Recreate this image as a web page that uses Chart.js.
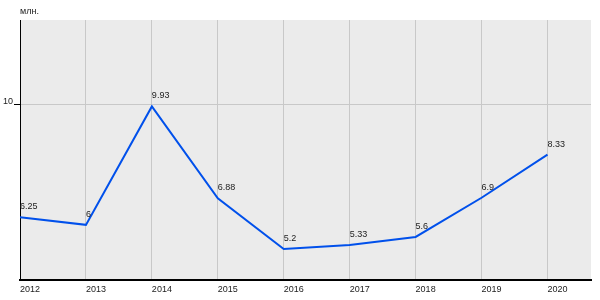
<!DOCTYPE html>
<html>
<head>
<meta charset="utf-8">
<script src="https://cdn.jsdelivr.net/npm/chart.js@4"></script>
<style>
  html, body { margin: 0; padding: 0; background: #fff; }
  #wrap { width: 600px; height: 300px; }
</style>
</head>
<body>
<div id="wrap"><canvas id="myChart"></canvas></div>
<script>
// values
const years = [2012, 2013, 2014, 2015, 2016, 2017, 2018, 2019, 2020];
const values = [6.25, 6, 9.93, 6.88, 5.2, 5.33, 5.6, 6.9, 8.33];
const yTicks = [10];
const unitLabel = 'млн.';

const FONT = '"Liberation Sans", Arial, sans-serif';

// grey plot background
const plotBg = {
  id: 'plotBg',
  beforeDraw(chart) {
    const a = chart.chartArea, ctx = chart.ctx;
    ctx.save();
    ctx.fillStyle = '#ebebeb';
    ctx.fillRect(a.left, a.top, a.right - a.left, a.bottom - a.top);
    ctx.restore();
  }
};

// value labels + unit text
const valueLabels = {
  id: 'valueLabels',
  afterDatasetsDraw(chart) {
    const ctx = chart.ctx;
    const meta = chart.getDatasetMeta(0);
    ctx.save();
    ctx.font = '9px ' + FONT;
    ctx.fillStyle = '#222';
    ctx.textAlign = 'left';
    ctx.textBaseline = 'middle';
    meta.data.forEach((pt, i) => {
      ctx.fillText(String(values[i]), pt.x, pt.y - 10.5);
    });
    ctx.fillText(unitLabel, chart.chartArea.left, 12);
    ctx.restore();
  }
};

const data = {
  datasets: [{
    data: years.map((y, i) => ({ x: y, y: values[i] })),
    borderColor: 'rgb(0, 80, 235)',
    borderWidth: 2,
    pointRadius: 0,
    tension: 0,
    fill: false
  }]
};

const config = {
  type: 'line',
  data: data,
  options: {
    responsive: true,
    maintainAspectRatio: false,
    animation: false,
    layout: { padding: { top: 20, right: 9, left: 0, bottom: 0 } },
    plugins: {
      legend: { display: false },
      tooltip: { enabled: false }
    },
    scales: {
      x: {
        type: 'linear',
        min: 2012,
        max: 2020.66,
        afterBuildTicks: s => { s.ticks = years.map(v => ({ value: v })); },
        afterFit: s => { s.height = 20; },
        grid: { color: '#c8c8c8', drawTicks: false, lineWidth: 1 },
        border: { color: '#000', width: 2 },
        ticks: {
          align: 'start',
          maxRotation: 0,
          autoSkip: false,
          padding: 4,
          color: '#222',
          font: { family: FONT, size: 9 },
          callback: v => String(v)
        }
      },
      y: {
        min: 4.17,
        max: 12.8,
        afterBuildTicks: s => { s.ticks = yTicks.map(v => ({ value: v })); },
        afterFit: s => { s.width = 20; },
        grid: { color: '#c8c8c8', tickColor: '#000', tickLength: 6, lineWidth: 1 },
        border: { color: '#000', width: 1 },
        ticks: {
          padding: 1,
          labelOffset: -3,
          color: '#222',
          font: { family: FONT, size: 9 }
        }
      }
    }
  },
  plugins: [plotBg, valueLabels]
};

const myChart = new Chart(document.getElementById('myChart'), config);
</script>
</body>
</html>
